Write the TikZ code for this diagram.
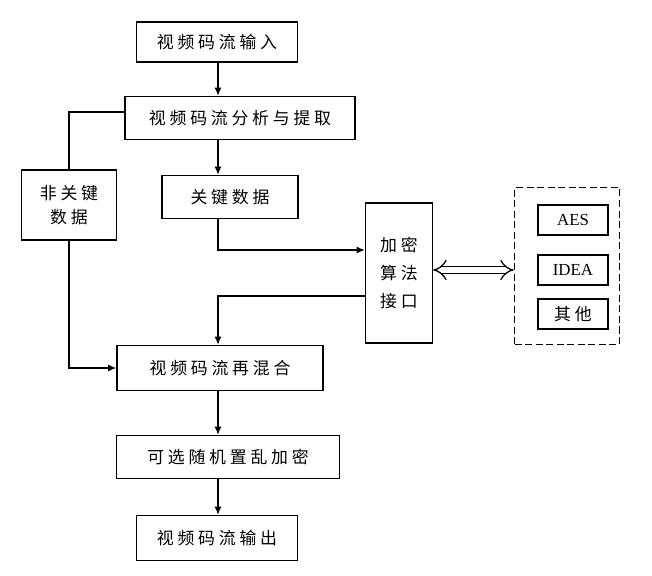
\documentclass[tikz,border=0pt]{standalone}
\usepackage{fontspec}
\setmainfont{Liberation Serif}
\newfontfamily\cjk{Noto Sans CJK SC}
\usetikzlibrary{positioning,arrows.meta}
\begin{document}
\begin{tikzpicture}[x=0.03cm,y=-0.03cm,
  box/.style={draw, line width=1.2pt, inner sep=0pt, font=\cjk\Large},
  flow/.style={-{Latex[length=7pt,width=6pt]}, line width=1.1pt},
  line/.style={line width=1.1pt}]
\useasboundingbox (0,0) rectangle (652,575);
% main chain
\node[box, minimum width=161*0.03cm, minimum height=40*0.03cm] (in) at (217,42) {视 频 码 流 输 入};
\node[box, minimum width=230*0.03cm, minimum height=43*0.03cm] (ana) at (240,118) {视 频 码 流 分 析 与 提 取};
\node[box, minimum width=95*0.03cm, minimum height=70*0.03cm, align=center] (nonkey) at (69,205) {非 关 键\\[2pt]数 据};
\node[box, minimum width=136*0.03cm, minimum height=43*0.03cm] (key) at (230,197) {关 键 数 据};
\node[box, minimum width=67*0.03cm, minimum height=140*0.03cm, align=center] (enc) at (399,273) {加 密\\[6pt]算 法\\[6pt]接 口};
\node[box, minimum width=206*0.03cm, minimum height=45*0.03cm] (mix) at (220,368) {视 频 码 流 再 混 合};
\node[box, minimum width=223*0.03cm, minimum height=43*0.03cm] (scr) at (228,457) {可 选 随 机 置 乱 加 密};
\node[box, minimum width=161*0.03cm, minimum height=45*0.03cm] (out) at (217,538) {视 频 码 流 输 出};
% algorithm set
\node[draw, line width=1.4pt, dash pattern=on 6pt off 3pt, minimum width=105*0.03cm, minimum height=157*0.03cm] (algs) at (567,266) {};
\node[box, minimum width=70*0.03cm, minimum height=30*0.03cm, font=\Large] (aes) at (573,220) {AES};
\node[box, minimum width=70*0.03cm, minimum height=30*0.03cm, font=\Large] (idea) at (573,270) {IDEA};
\node[box, minimum width=70*0.03cm, minimum height=30*0.03cm] (other) at (573,314) {其 他};
% connectors
\coordinate (c) at (218,0);
\draw[flow] (c |- in.south) -- (c |- ana.north);
\draw[flow] (c |- ana.south) -- (c |- key.north);
\draw[line] (ana.west |- 0,112) -| (nonkey.north);
\draw[flow] (nonkey.south) |- (mix.west);
\coordinate (k1) at (218,250);
\draw[flow] (c |- key.south) -- (k1) -- (k1 -| enc.west);
\coordinate (k2) at (218,296);
\draw[flow] (k2 -| enc.west) -- (k2) -- (c |- mix.north);
\draw[flow] (c |- mix.south) -- (c |- scr.north);
\draw[flow] (c |- scr.south) -- (c |- out.north);
\draw[line width=1.1pt, double, double distance=5pt, {Implies[length=9pt]}-{Implies[length=9pt]}] (enc.east |- 0,270) -- (algs.west |- 0,270);
\end{tikzpicture}
\end{document}
